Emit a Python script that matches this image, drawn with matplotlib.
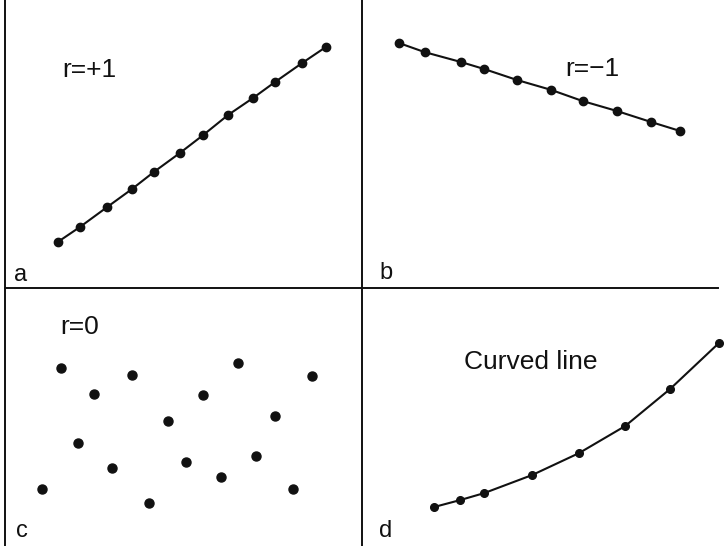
import matplotlib.pyplot as plt

# panel a: r = +1
a_x = [1.48, 2.10, 2.86, 3.56, 4.17, 4.90, 5.55, 6.25, 6.95, 7.56, 8.32, 8.99]
a_y = [1.60, 2.12, 2.81, 3.44, 4.03, 4.69, 5.31, 6.01, 6.60, 7.15, 7.81, 8.37]

# panel b: r = -1
b_x = [1.03, 1.76, 2.77, 3.44, 4.36, 5.31, 6.20, 7.15, 8.13, 8.94]
b_y = [8.51, 8.19, 7.85, 7.60, 7.22, 6.88, 6.49, 6.15, 5.76, 5.45]

# panel c: r = 0
c_x = [1.57, 3.56, 2.49, 6.53, 8.60, 5.55, 4.57, 7.56,
       2.04, 5.07, 7.03, 3.00, 6.05, 1.04, 8.07, 4.03]
c_y = [6.90, 6.63, 5.89, 7.09, 6.59, 5.85, 4.84, 5.04,
       3.99, 3.26, 3.49, 3.02, 2.67, 2.21, 2.21, 1.67]

# panel d: curved line
d_x = [2.01, 2.74, 3.41, 4.75, 6.06, 7.35, 8.60, 9.97]
d_y = [1.51, 1.78, 2.05, 2.75, 3.60, 4.65, 6.08, 7.87]

ink = "#111111"
plt.rcParams['font.family'] = ['Liberation Sans', 'DejaVu Sans']

fig = plt.figure(figsize=(7.28, 5.46), dpi=100)

ax_a = fig.add_axes([0.0069, 0.4725, 0.4904, 0.5275])
ax_b = fig.add_axes([0.4973, 0.4725, 0.4890, 0.5275])
ax_c = fig.add_axes([0.0069, 0.0, 0.4904, 0.4725])
ax_d = fig.add_axes([0.4973, 0.0, 0.4918, 0.4725])

for ax in (ax_a, ax_b, ax_c, ax_d):
    ax.set_xlim(0, 10)
    ax.set_ylim(0, 10)
    ax.set_xticks([])
    ax.set_yticks([])
    for side in ("top", "right", "bottom"):
        ax.spines[side].set_visible(False)
    ax.spines["left"].set_linewidth(1.4)
    ax.spines["left"].set_color(ink)
    ax.patch.set_alpha(0)

for ax in (ax_a, ax_b):
    ax.spines["bottom"].set_visible(True)
    ax.spines["bottom"].set_linewidth(1.4)
    ax.spines["bottom"].set_color(ink)

ax_a.plot(a_x, a_y, "-o", color=ink, lw=1.5, ms=6, clip_on=False)
ax_b.plot(b_x, b_y, "-o", color=ink, lw=1.5, ms=6, clip_on=False)
ax_c.plot(c_x, c_y, "o", color=ink, ms=6.5, clip_on=False)
ax_d.plot(d_x, d_y, "-o", color=ink, lw=1.5, ms=5.5, clip_on=False)

lab = dict(fontsize=19, color=ink, va="center", ha="left")
ax_a.text(0.16, 0.757, "r=+1", transform=ax_a.transAxes, **lab)
ax_b.text(0.57, 0.76, "r=\u22121", transform=ax_b.transAxes, **lab)
ax_c.text(0.154, 0.85, "r=0", transform=ax_c.transAxes, **lab)
ax_d.text(0.285, 0.713, "Curved line", transform=ax_d.transAxes, **lab)

let = dict(fontsize=17, color=ink, va="baseline", ha="left")
ax_a.text(0.026, 0.025, "a", transform=ax_a.transAxes, **let)
ax_b.text(0.048, 0.03, "b", transform=ax_b.transAxes, **let)
ax_c.text(0.032, 0.035, "c", transform=ax_c.transAxes, **let)
ax_d.text(0.048, 0.035, "d", transform=ax_d.transAxes, **let)

fig.savefig("out.png", dpi=100)
